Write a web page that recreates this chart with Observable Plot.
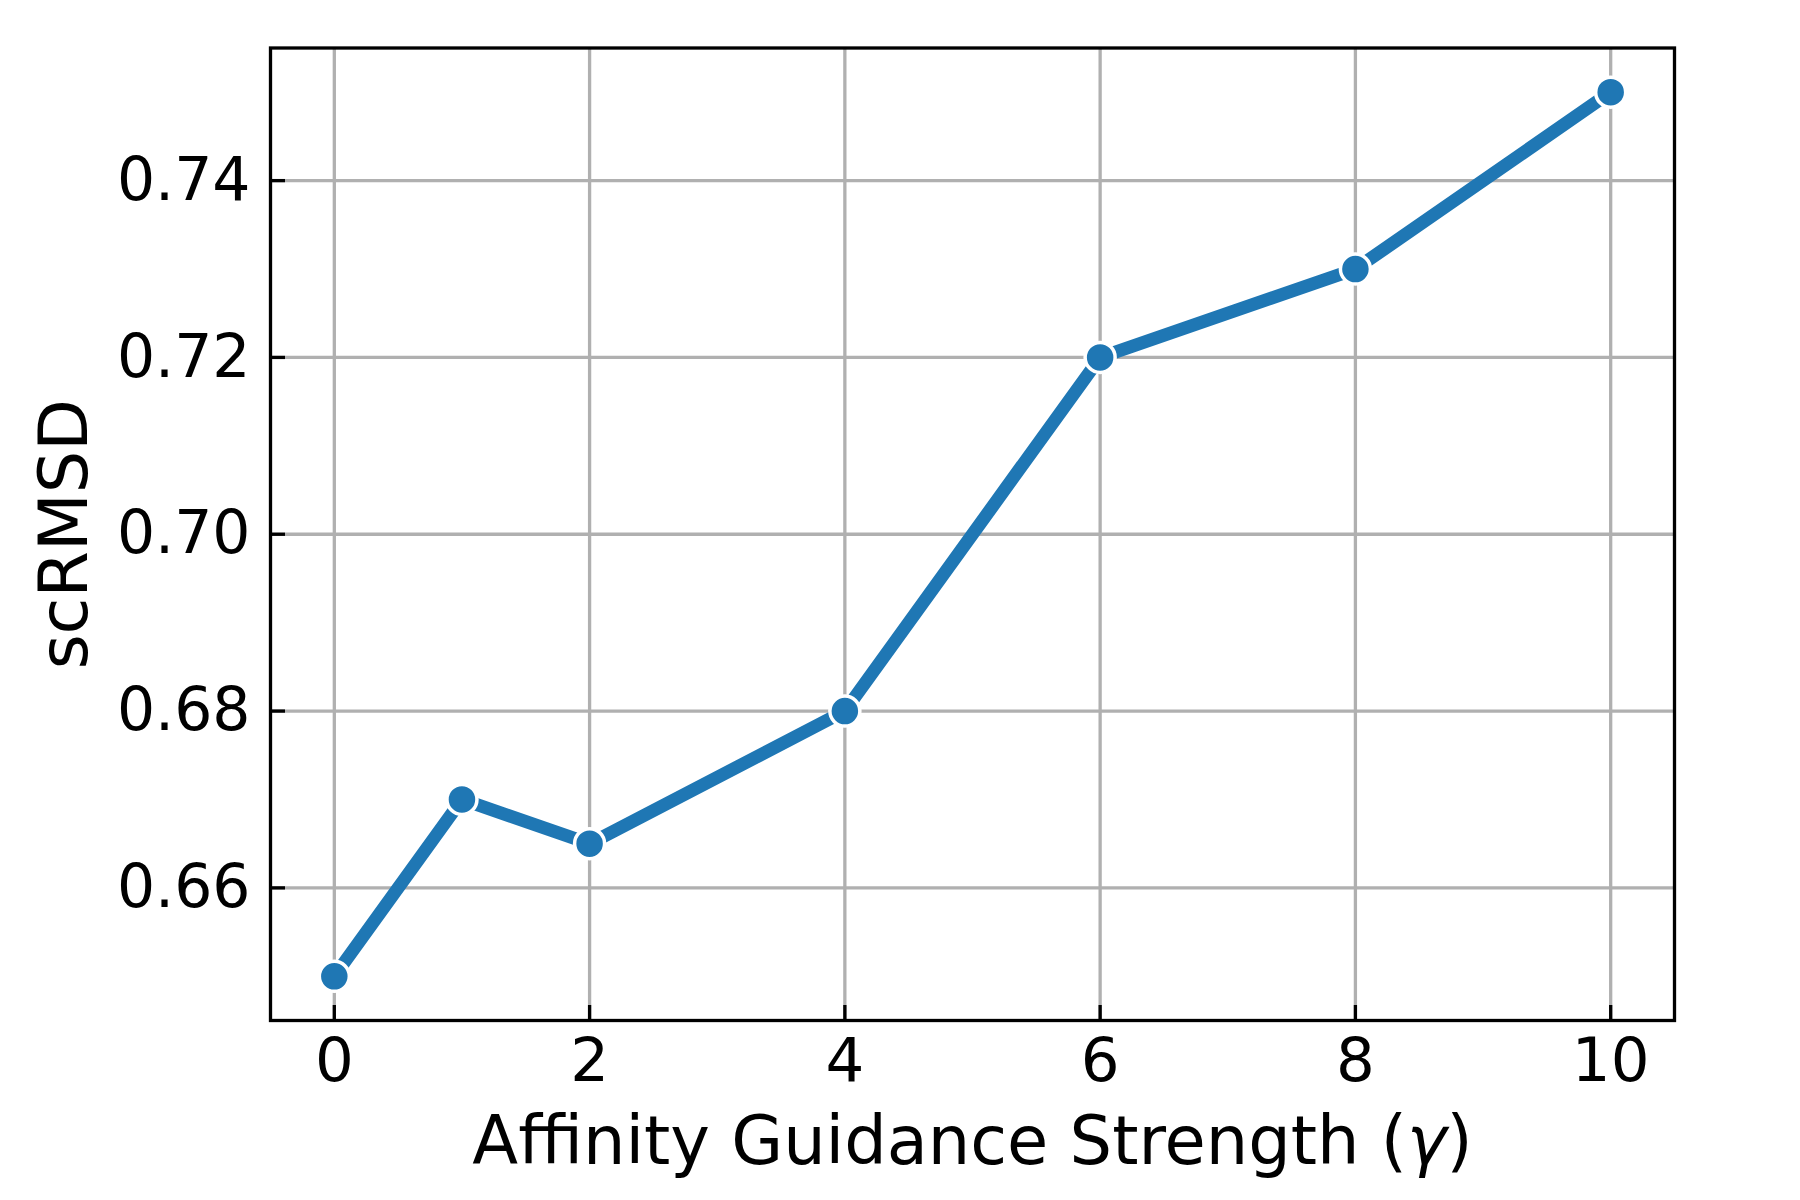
<!DOCTYPE html>
<html>
<head>
<meta charset="utf-8">
<script src="https://cdn.jsdelivr.net/npm/d3@7"></script>
<script src="https://cdn.jsdelivr.net/npm/@observablehq/plot@0.6"></script>
<style>
  html, body { margin: 0; padding: 0; background: white; overflow: hidden; }
  #chart svg { display: block; }
</style>
</head>
<body>
<div id="chart"></div>
<script>
// Data
const gammas = [0, 1, 2, 4, 6, 8, 10];
const scrmsd = [0.65, 0.67, 0.665, 0.68, 0.72, 0.73, 0.75];
const xTicks = [0, 2, 4, 6, 8, 10];
const yTicks = [0.66, 0.68, 0.70, 0.72, 0.74];
const xLabel = "Affinity Guidance Strength (γ)";
const yLabel = "scRMSD";

const data = gammas.map((g, i) => ({gamma: g, value: scrmsd[i]}));

const W = 1800, H = 1200;
const mL = 270, mR = 126, mT = 47.5, mB = 180;
const innerW = W - mL - mR, innerH = H - mT - mB;
const blue = "#1f77b4", gridColor = "#b0b0b0";

const chart = Plot.plot({
  width: W,
  height: H,
  marginLeft: mL,
  marginRight: mR,
  marginTop: mT,
  marginBottom: mB,
  style: {fontFamily: "DejaVu Sans", fontSize: "60px", background: "white", color: "black"},
  x: {domain: [-0.5, 10.5]},
  y: {domain: [0.645, 0.755]},
  marks: [
    Plot.gridX(xTicks, {stroke: gridColor, strokeOpacity: 1, strokeWidth: 3.3}),
    Plot.gridY(yTicks, {stroke: gridColor, strokeOpacity: 1, strokeWidth: 3.3}),
    Plot.tickX(xTicks, {x: d => d, insetTop: innerH - 15, stroke: "black", strokeWidth: 3.3}),
    Plot.tickY(yTicks, {y: d => d, insetRight: innerW - 15, stroke: "black", strokeWidth: 3.3}),
    Plot.line(data, {x: "gamma", y: "value", stroke: blue, strokeWidth: 13, strokeLinejoin: "round"}),
    Plot.dot(data, {x: "gamma", y: "value", r: 15, fill: blue, stroke: "white", strokeWidth: 3.5}),
    Plot.frame({stroke: "black", strokeWidth: 3.3}),
    Plot.axisX(xTicks, {tickSize: 0, tickPadding: 17, label: null, fontSize: 61, tickFormat: d3.format("d")}),
    Plot.axisY(yTicks, {tickSize: 0, tickPadding: 20, label: null, fontSize: 60, tickFormat: d3.format(".2f")}),
    Plot.text([xLabel], {text: d => d, frameAnchor: "bottom", dy: 122, lineAnchor: "middle", textAnchor: "middle", fontSize: 67}),
    Plot.text([yLabel], {text: d => d, frameAnchor: "left", dx: -205, rotate: -90, lineAnchor: "middle", textAnchor: "middle", fontSize: 67})
  ]
});
document.getElementById("chart").appendChild(chart);

// Render the gamma in italic, as in the reference's math text
d3.select(chart).selectAll("text").each(function() {
  const t = this.textContent;
  if (t === xLabel) {
    const i = t.indexOf("γ");
    const sel = d3.select(this);
    sel.text(null);
    sel.append("tspan").text(t.slice(0, i));
    sel.append("tspan").attr("font-style", "oblique").text("γ");
    sel.append("tspan").text(t.slice(i + 1));
  }
});
</script>
</body>
</html>
